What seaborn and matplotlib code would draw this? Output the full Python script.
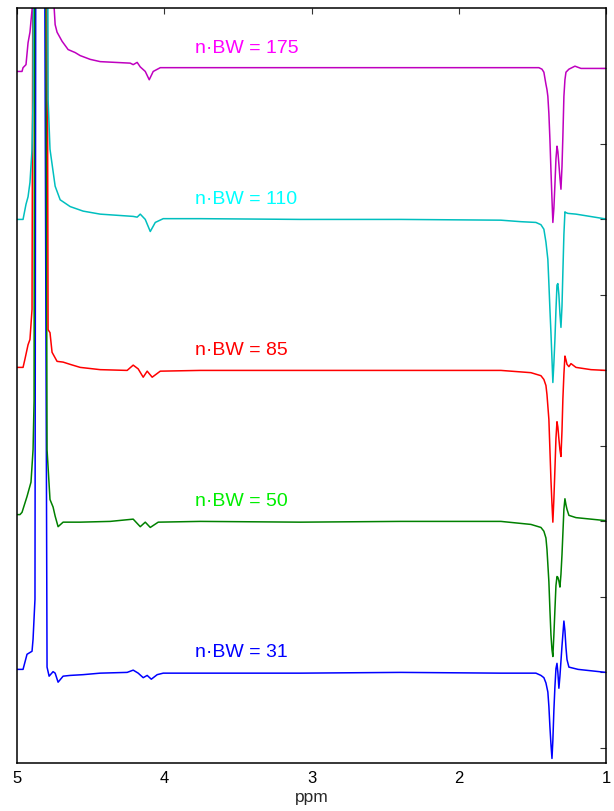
import pandas as pd
import matplotlib
matplotlib.use('Agg')
import matplotlib.pyplot as plt
import seaborn as sns

# stacked 1H spectra, values relative to each baseline (1 unit = 1 y tick)
nbw_labels = ['n\u00b7BW = 31', 'n\u00b7BW = 50', 'n\u00b7BW = 85', 'n\u00b7BW = 110', 'n\u00b7BW = 175']
offsets = [1, 3, 5, 7, 9]
line_colors = ['#0000ff', '#008000', '#ff0000', '#00bfbf', '#bf00bf']
text_colors = ['#0000ff', '#00ee00', '#ff0000', '#00ffff', '#ff00ff']

ppm_31 = [5.000, 4.959, 4.932, 4.898, 4.891, 4.878, 4.871, 4.840, 4.816, 4.796, 4.782,
          4.755, 4.741, 4.721, 4.687, 4.639, 4.551, 4.435, 4.252, 4.211, 4.177, 4.143,
          4.116, 4.088, 4.048, 4.007, 3.755, 3.075, 2.395, 1.714, 1.476, 1.442, 1.422,
          1.408, 1.395, 1.388, 1.381, 1.374, 1.367, 1.361, 1.354, 1.347, 1.340, 1.333,
          1.327, 1.320, 1.313, 1.299, 1.286, 1.279, 1.272, 1.265, 1.252, 1.190, 1.000]
sig_31 = [0.04, 0.04, 0.24, 0.28, 0.44, 0.97, 12, 12, 12, 0.07, -0.05,
          0.01, -0.01, -0.13, -0.05, -0.04, -0.03, -0.01, 0.0, 0.03, -0.01, -0.07,
          -0.04, -0.09, -0.03, -0.01, -0.01, -0.01, 0.0, -0.01, -0.01, -0.04, -0.07,
          -0.14, -0.26, -0.45, -0.72, -0.95, -1.14, -0.90, -0.50, -0.19, 0.05, 0.12,
          0.0, -0.21, -0.05, 0.35, 0.68, 0.55, 0.33, 0.17, 0.07, 0.04, 0.0]

ppm_50 = [5.000, 4.980, 4.966, 4.932, 4.905, 4.891, 4.884, 4.878, 4.840, 4.810, 4.796,
          4.776, 4.755, 4.741, 4.721, 4.687, 4.571, 4.367, 4.211, 4.163, 4.129, 4.095,
          4.041, 3.755, 3.075, 2.395, 1.714, 1.510, 1.442, 1.422, 1.408, 1.401, 1.388,
          1.381, 1.374, 1.367, 1.361, 1.354, 1.347, 1.340, 1.333, 1.327, 1.320, 1.313,
          1.306, 1.299, 1.286, 1.279, 1.272, 1.265, 1.252, 1.204, 1.102, 1.000]
sig_50 = [0.09, 0.09, 0.12, 0.33, 0.52, 0.95, 1.6, 12, 12, 12, 0.95,
          0.29, 0.19, 0.07, -0.07, -0.01, -0.01, 0.0, 0.03, -0.07, -0.01, -0.08,
          -0.01, 0.0, -0.01, 0.0, 0.0, -0.04, -0.08, -0.13, -0.22, -0.37, -0.80,
          -1.17, -1.50, -1.70, -1.79, -1.50, -1.17, -0.85, -0.73, -0.74, -0.79, -0.87,
          -0.70, -0.44, 0.16, 0.30, 0.22, 0.16, 0.08, 0.05, 0.03, 0.01]

ppm_85 = [5.000, 4.959, 4.946, 4.925, 4.912, 4.898, 4.884, 4.840, 4.803, 4.789, 4.776,
          4.762, 4.728, 4.687, 4.639, 4.571, 4.435, 4.252, 4.211, 4.177, 4.143, 4.116,
          4.082, 4.027, 3.755, 3.075, 2.395, 1.714, 1.510, 1.442, 1.422, 1.408, 1.401,
          1.388, 1.381, 1.374, 1.367, 1.361, 1.354, 1.347, 1.340, 1.333, 1.327, 1.320,
          1.313, 1.306, 1.299, 1.293, 1.286, 1.279, 1.272, 1.265, 1.252, 1.238, 1.204,
          1.102, 1.000]
sig_85 = [0.04, 0.04, 0.15, 0.34, 0.41, 0.81, 12, 12, 12, 0.54, 0.50,
          0.24, 0.12, 0.11, 0.08, 0.04, 0.01, 0.0, 0.07, 0.02, -0.09, -0.01,
          -0.09, -0.01, 0.0, 0.0, 0.0, 0.0, -0.03, -0.07, -0.12, -0.20, -0.32,
          -0.65, -1.05, -1.45, -1.77, -2.01, -1.70, -1.31, -0.90, -0.68, -0.75, -0.91,
          -1.05, -1.14, -0.80, -0.38, -0.05, 0.19, 0.14, 0.08, 0.05, 0.09, 0.04,
          0.01, 0.0]

ppm_110 = [5.000, 4.959, 4.939, 4.925, 4.912, 4.898, 4.891, 4.884, 4.840, 4.803, 4.789,
           4.776, 4.741, 4.707, 4.639, 4.551, 4.435, 4.211, 4.184, 4.163, 4.129, 4.095,
           4.061, 4.007, 3.755, 3.075, 2.395, 1.714, 1.578, 1.476, 1.442, 1.422, 1.408,
           1.395, 1.388, 1.381, 1.374, 1.367, 1.361, 1.354, 1.347, 1.340, 1.333, 1.327,
           1.320, 1.313, 1.306, 1.299, 1.293, 1.286, 1.279, 1.272, 1.259, 1.204, 1.014,
           1.000]
sig_110 = [0.0, 0.0, 0.2, 0.3, 0.49, 0.93, 1.6, 12, 12, 12, 1.59,
           0.93, 0.44, 0.26, 0.17, 0.11, 0.07, 0.04, 0.03, 0.07, 0.0, -0.16,
           -0.04, 0.01, 0.01, 0.0, 0.0, -0.01, -0.03, -0.04, -0.07, -0.13, -0.30,
           -0.53, -0.85, -1.19, -1.50, -1.85, -2.16, -1.90, -1.59, -1.20, -0.87, -0.85,
           -1.00, -1.25, -1.43, -1.15, -0.70, -0.20, 0.10, 0.09, 0.08, 0.07, 0.01,
           0.01]

ppm_175 = [5.000, 4.966, 4.959, 4.939, 4.925, 4.912, 4.898, 4.891, 4.840, 4.755, 4.748,
           4.741, 4.728, 4.694, 4.653, 4.605, 4.571, 4.503, 4.435, 4.333, 4.231, 4.211,
           4.184, 4.163, 4.129, 4.102, 4.075, 4.027, 3.755, 3.075, 2.395, 1.714, 1.456,
           1.435, 1.422, 1.408, 1.401, 1.395, 1.388, 1.381, 1.374, 1.367, 1.361, 1.354,
           1.347, 1.340, 1.333, 1.327, 1.320, 1.313, 1.306, 1.299, 1.293, 1.286, 1.279,
           1.272, 1.252, 1.211, 1.170, 1.000]
sig_175 = [-0.04, -0.04, 0.01, 0.05, 0.34, 0.48, 0.78, 12, 12, 12, 0.81,
           0.58, 0.48, 0.36, 0.25, 0.21, 0.17, 0.12, 0.09, 0.08, 0.07, 0.05,
           0.08, 0.02, -0.04, -0.15, -0.04, 0.01, 0.01, 0.01, 0.01, 0.01, 0.01,
           -0.01, -0.05, -0.21, -0.28, -0.37, -0.60, -0.94, -1.35, -1.73, -2.04, -1.85,
           -1.54, -1.20, -1.03, -1.10, -1.27, -1.45, -1.60, -1.30, -0.90, -0.37, -0.15,
           -0.05, -0.01, 0.03, 0.0, 0.0]

ppm_lists = [ppm_31, ppm_50, ppm_85, ppm_110, ppm_175]
sig_lists = [sig_31, sig_50, sig_85, sig_110, sig_175]

frames = []
for name, off, ppm, sig in zip(nbw_labels, offsets, ppm_lists, sig_lists):
    frames.append(pd.DataFrame({'ppm': ppm,
                                'signal': [s + off for s in sig],
                                'trace': name}))
df = pd.concat(frames, ignore_index=True)

sns.set_style('white')
plt.rcParams['font.family'] = ['Liberation Sans', 'DejaVu Sans']

fig = plt.figure(figsize=(6.14, 8.11), dpi=100)
ax = fig.add_axes([0.0277, 0.0592, 0.9593, 0.9309])

sns.lineplot(data=df, x='ppm', y='signal', hue='trace',
             palette=dict(zip(nbw_labels, line_colors)),
             estimator=None, sort=False, linewidth=1.1,
             legend=False, ax=ax)

for name, off, col in zip(nbw_labels, offsets, text_colors):
    ax.text(3.79, off + 0.27, name, color=col, fontsize=14,
            ha='left', va='center')

ax.set_xlim(5, 1)
ax.set_ylim(-0.2, 9.8)
ax.set_xticks([5, 4, 3, 2, 1])
ax.set_xticklabels(['5', '4', '3', '2', '1'])
ax.set_yticks(range(10))
ax.set_yticklabels([])
ax.set_xlabel('ppm', fontsize=12.5, labelpad=3)
ax.set_ylabel('')
ax.tick_params(direction='in', length=4, width=0.8, colors='#333333',
               top=True, right=True, labelsize=12, pad=6)
ax.tick_params(axis='x', labelcolor='black')
for sp in ax.spines.values():
    sp.set_color('black')
    sp.set_linewidth(1.1)

fig.savefig('out.png', dpi=100)
